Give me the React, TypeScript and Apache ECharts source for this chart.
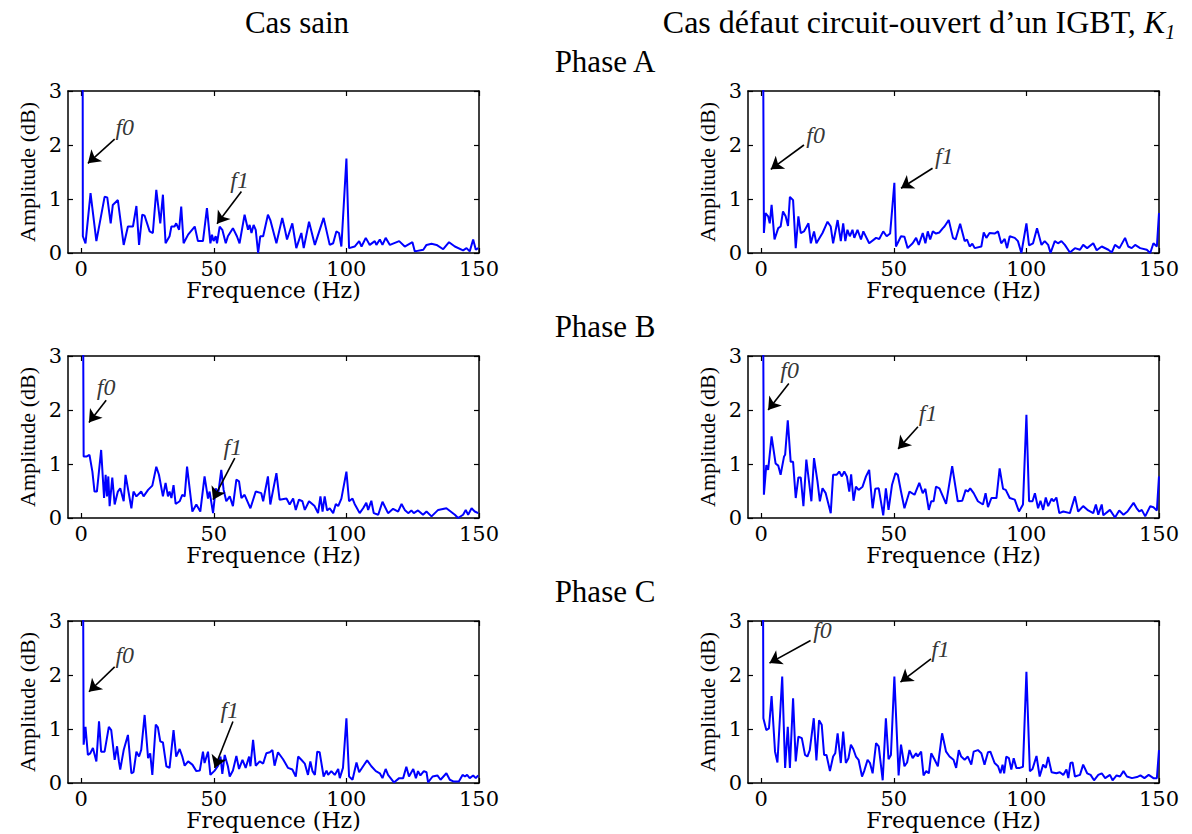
import React, { useEffect, useRef } from "react";
import * as echarts from "echarts";

// ---- data: [frequency (Hz), amplitude (dB)] ----
const sainA: [number, number][] = [[0.5,5],[0.6,0.31],[1.6,0.18],[3.5,1.11],[5.7,0.22],[8.8,1.04],[9.8,1.03],[11.1,0.55],[11.9,0.89],[13.8,0.98],[16,0.15],[17.6,0.49],[19.5,0.49],[20.8,0.87],[21.8,0.15],[23,0.71],[23.9,0.69],[25.8,0.4],[27,0.37],[28.3,1.17],[29.8,0.55],[30.8,1.08],[31.8,0.18],[33.3,0.31],[34,0.49],[35.2,0.49],[35.8,0.55],[36.9,0.43],[37.7,0.86],[38.6,0.18],[40.3,0.34],[42.8,0.49],[44,0.22],[45.9,0.22],[47.4,0.83],[48.7,0.18],[49.3,0.34],[49.9,0.22],[50.7,0.31],[51.2,0.18],[52.2,0.49],[53.2,0.43],[54.5,0.18],[55.3,0.31],[57.2,0.46],[58.7,0.31],[59.7,0.18],[61.6,0.71],[62.9,0.43],[63.5,0.52],[64.2,0.37],[65,0.52],[65.8,0.43],[66.7,0],[67.5,0.31],[68.6,0.31],[70.4,0.71],[71.3,0.61],[73.6,0.18],[75.8,0.65],[76.7,0.46],[77.6,0.25],[79.6,0.55],[81.1,0.09],[83,0.37],[83.9,0.09],[85.9,0.58],[88.1,0.15],[91.4,0.65],[93.7,0.15],[95,0.18],[96.2,0.4],[97.2,0.37],[98.1,0.12],[100,1.75],[101,0.09],[103.1,0.12],[104.8,0.22],[105.7,0.12],[107.3,0.28],[108.8,0.15],[110.7,0.22],[111.3,0.15],[112.6,0.25],[113.6,0.15],[114.8,0.28],[116.4,0.15],[119.9,0.22],[122,0.12],[124.9,0.2],[125.8,0.03],[129,0.06],[130.2,0.15],[132.1,0.17],[134,0.15],[136.5,0.07],[138.7,0.2],[140.9,0.12],[144,0.05],[145.3,0.09],[146.5,0.03],[147.8,0.25],[148.8,0.06],[149.7,0.09]];

const defA: [number, number][] = [[0.6,5],[1,0.37],[1.6,0.74],[2.6,0.68],[3.2,0.55],[3.9,0.89],[5,0.25],[6.4,0.46],[7.3,0.49],[8.2,0.77],[9.2,0.68],[10.1,0.5],[10.8,1.04],[12,0.98],[13,0.09],[14,0.68],[14.9,0.37],[16.1,0.4],[17.8,0.55],[18.7,0.18],[19.9,0.4],[20.8,0.18],[23.1,0.37],[25,0.58],[26.2,0.49],[27.1,0.18],[28.8,0.61],[30,0.22],[30.9,0.55],[31.7,0.22],[32.5,0.43],[33.4,0.31],[34.4,0.43],[35.1,0.28],[36.3,0.43],[37.6,0.25],[38.5,0.4],[40.7,0.18],[43.3,0.28],[44.5,0.26],[46,0.4],[47.3,0.31],[48.6,0.36],[50.2,1.3],[50.8,0.12],[52.7,0.31],[54,0.3],[55.2,0.09],[57.1,0.18],[58.4,0.28],[59.4,0.15],[60.9,0.37],[61.9,0.18],[62.8,0.4],[63.7,0.25],[64.7,0.4],[65.9,0.36],[67.2,0.38],[68.5,0.46],[69.1,0.49],[70.7,0.61],[72.3,0.28],[73.3,0.25],[75,0.54],[76.7,0.22],[77.6,0.25],[78.6,0.12],[79.6,0.17],[80.5,0.09],[83,0.12],[83.9,0.38],[84.9,0.28],[86.1,0.37],[88,0.36],[89.3,0.4],[90.5,0.18],[91.8,0.26],[92.7,0.09],[93.7,0.31],[95.6,0.28],[96.8,0.22],[98.1,0],[100,0.55],[101,0.14],[102.5,0.18],[104,0.46],[105.7,0.15],[106.9,0.22],[108.2,0.15],[109.1,0],[110.7,0.22],[111.9,0.18],[113.2,0.22],[114.5,0.15],[116.4,0.01],[118.3,0.09],[120.2,0.06],[121.4,0.15],[122.9,0.09],[125.2,0.18],[126.5,0.05],[128.4,0.12],[130.9,0.06],[132.2,0.01],[133.4,0.15],[135.1,0.09],[137.2,0.28],[138.4,0.12],[139.7,0.09],[141,0.15],[142.9,0.09],[145.4,0.06],[146.7,0],[147.9,0.18],[149.2,0.12],[150,0.74]];

const sainB: [number, number][] = [[0.6,5],[0.9,1.14],[2.1,1.14],[3.1,1.17],[4.2,0.86],[5,0.49],[5.9,0.49],[7.5,1.26],[8.6,0.37],[9.2,0.8],[9.7,0.4],[10.2,0.77],[10.7,0.22],[11.7,0.75],[12.6,0.25],[13.8,0.49],[14.7,0.55],[16,0.31],[16.7,0.8],[18.9,0.18],[19.7,0.49],[20.8,0.4],[22.6,0.49],[23.5,0.4],[25.2,0.52],[26.8,0.6],[28.3,0.95],[29.3,0.8],[30.8,0.4],[31.8,0.65],[32.7,0.4],[33.3,0.49],[34,0.37],[34.8,0.61],[35.6,0.26],[37.1,0.31],[38.1,0.43],[39,0.4],[39.9,0.95],[41.9,0.12],[43.4,0.25],[44.9,0.12],[46.5,0.77],[47.8,0.36],[48.4,0.49],[49.7,0.09],[50.7,0.55],[51.6,0.43],[52.8,0.89],[53.7,0.52],[54.7,0.31],[56,0.4],[57.2,0.22],[58.5,0.71],[59.5,0.68],[60.4,0.37],[61.6,0.43],[63.8,0.18],[65.8,0.49],[67.9,0.46],[68.6,0.31],[70.4,0.77],[71.3,0.25],[73.6,0.83],[74.8,0.34],[77.4,0.36],[78.6,0.25],[79.9,0.36],[80.9,0.15],[82.1,0.34],[83.4,0.31],[84.3,0.15],[85.9,0.31],[88,0.22],[89.3,0.09],[90.2,0.4],[91,0.12],[91.8,0.4],[92.7,0.14],[93.7,0.18],[95,0.09],[96,0.26],[96.9,0.22],[98.1,0.36],[100,0.86],[101,0.31],[102.3,0.36],[103.1,0.26],[105,0.09],[106.3,0.18],[107.5,0.28],[108.2,0.15],[109.4,0.32],[110.3,0.09],[112,0.06],[113.6,0.3],[115.7,0.09],[117.6,0.17],[119.5,0.12],[120.8,0.26],[122,0.15],[123.3,0.09],[124.5,0.14],[125.4,0.09],[127,0.14],[128.9,0.06],[130.2,0.12],[132.1,0.03],[134.6,0.15],[137.7,0.18],[140.9,0.06],[142.1,0],[144,0.06],[145,0.15],[145.9,0.06],[147.2,0.18],[148.4,0.12],[149.7,0.09]];

const defB: [number, number][] = [[0.6,5],[1,0.43],[1.9,0.98],[2.6,0.89],[3.9,1.51],[5.4,1.01],[6.4,0.97],[7.3,0.8],[8.6,1.14],[9,1.17],[10,1.81],[11.1,1.04],[12,1.04],[13,0.37],[14,0.75],[14.9,0.75],[15.9,0.22],[17,1.08],[18,0.68],[18.9,0.31],[19.9,1.11],[21.2,0.68],[22.1,0.31],[23.1,0.55],[24.3,0.46],[26.2,0.09],[27.1,0.8],[28.4,0.8],[29.4,0.86],[30.4,0.77],[31.3,0.86],[32.3,0.77],[33.2,0.49],[33.9,0.81],[34.8,0.32],[35.7,0.58],[36.7,0.52],[38.2,0.58],[39.5,0.77],[40.7,0.89],[42,0.18],[43,0.54],[44.3,0.55],[46,0.05],[47,0.55],[48,0.15],[49.3,0.61],[50.6,0.83],[51.5,0.8],[52.7,0.49],[54,0.18],[55.9,0.49],[57.8,0.43],[59.6,0.65],[60.9,0.46],[61.9,0.54],[63.2,0.15],[64.1,0.31],[65,0.31],[65.9,0.58],[67.2,0.55],[68.5,0.4],[69.7,0.26],[72,0.96],[74.1,0.31],[75.8,0.32],[77.1,0.52],[77.9,0.49],[78.8,0.55],[80.1,0.46],[81.7,0.31],[83.6,0.25],[84.6,0.46],[85.5,0.2],[86.8,0.37],[88.7,0.37],[89.9,0.92],[91.2,0.54],[92.2,0.52],[93.7,0.37],[95.6,0.34],[97.2,0.12],[98.7,0.25],[100,1.91],[101,0.31],[102.3,0.31],[103.2,0.46],[104.4,0.18],[105.3,0.32],[106.3,0.15],[107.3,0.38],[108.2,0.22],[109.5,0.36],[110.3,0.31],[111.3,0.38],[112.4,0.09],[113.9,0.12],[116.4,0.09],[118.3,0.4],[119.5,0.12],[121.4,0.22],[123.3,0.14],[125.2,0.09],[126.2,0.25],[127.1,0.06],[128.4,0.25],[129,0.05],[131.5,0.15],[133.4,0.01],[135,0.14],[136.6,0.06],[138.1,0.12],[140.4,0.28],[141.6,0.18],[142.6,0.12],[143.5,0.15],[144.8,0.03],[146.7,0.22],[147.9,0.2],[149.2,0.14],[150,0.77]];

const sainC: [number, number][] = [[0.6,5],[0.9,0.71],[1.6,1.04],[2.5,0.52],[3.4,0.55],[4.4,0.65],[5.7,0.4],[6.7,1.14],[7.5,0.58],[8.8,0.58],[10.4,1.04],[11.3,0.98],[12.6,0.43],[13.5,0.68],[14.2,0.4],[14.7,0.25],[16,0.61],[17.6,0.89],[18.9,0.18],[19.7,0.2],[20.8,0.58],[21.8,0.49],[22.6,0.61],[23.9,1.26],[25.2,0.46],[26,0.55],[26.8,0.15],[28.1,1.08],[28.9,1.03],[29.8,0.77],[30.8,0.75],[32.1,0.31],[33.3,0.28],[34.8,0.98],[35.8,0.49],[37.1,0.63],[38.1,0.49],[39,0.32],[40.3,0.4],[41.9,0.34],[43.4,0.22],[44.7,0.23],[45.9,0.58],[46.5,0.37],[47.8,0.58],[48.7,0.15],[50.3,0.23],[51.6,0.32],[52.5,0.49],[53.2,0.17],[54.1,0.52],[55.3,0.31],[56,0.12],[57.2,0.23],[58.5,0.5],[59.5,0.26],[60.8,0.43],[62,0.28],[63.3,0.49],[63.8,0.31],[64.8,0.8],[65.8,0.32],[67.3,0.4],[68.6,0.36],[69.8,0.55],[71.1,0.57],[72.1,0.61],[72.9,0.32],[74.2,0.57],[76.1,0.44],[78,0.28],[79.6,0.25],[80.9,0.12],[81.8,0.49],[83,0.43],[84.3,0.36],[85.5,0.15],[86.4,0.4],[87.2,0.22],[88.1,0.15],[89,0.58],[89.9,0.57],[91.4,0.12],[92.5,0.23],[93.1,0.15],[94.3,0.22],[95.6,0.15],[96.9,0.26],[97.5,0.09],[98.7,0.28],[100,1.2],[101,0.12],[102.3,0.06],[103.8,0.38],[104.8,0.2],[106.3,0.31],[107.8,0.42],[109.4,0.31],[111.1,0.22],[112.6,0.18],[113.6,0.09],[114.8,0.26],[115.7,0.15],[117.9,0.01],[119.9,0.09],[121.4,0.09],[122.6,0.3],[123.6,0.12],[125.2,0.26],[126.2,0.09],[127,0.22],[127.9,0.14],[129.2,0.22],[130.2,0.2],[130.8,0.01],[132.5,0.12],[134.3,0.14],[135.5,0.06],[137.7,0.18],[139,0.06],[140.3,0.03],[142.4,0.03],[143.8,0.15],[144.7,0.12],[145.5,0.15],[146.5,0.09],[147.8,0.14],[148.8,0.09],[149.7,0.14]];

const defC: [number, number][] = [[0.6,5],[0.8,1.2],[1.9,0.98],[2.9,1.01],[3.9,1.61],[5.2,0.58],[6.1,0.38],[7.9,1.97],[9,0.28],[10,1.04],[10.8,0.28],[12,1.57],[13,0.4],[14,0.86],[15.3,0.83],[16.5,0.52],[17.4,0.49],[18.3,0.61],[19.8,1.2],[20.8,0.42],[21.8,1.16],[22.8,1.08],[23.7,0.52],[24.6,0.52],[25.9,0.22],[27.1,0.49],[27.9,0.55],[28.8,0.92],[30,0.37],[30.9,0.95],[31.9,0.37],[32.9,0.46],[33.8,0.71],[34.7,0.63],[35.7,0.49],[36.7,0.43],[38,0.12],[38.8,0.22],[40.1,0.43],[41,0.37],[42,0.18],[43.3,0.74],[44.3,0.68],[45.8,0.05],[47,1.2],[48,0.44],[48.9,0.52],[50.2,1.97],[51.8,0.14],[52.7,0.71],[54,0.31],[55,0.38],[55.9,0.61],[57.1,0.46],[58.4,0.55],[59,0.49],[60.3,0.58],[61.2,0.14],[62.2,0.22],[63.2,0.18],[64.1,0.55],[65.3,0.44],[66.6,0.31],[68.2,0.92],[69.7,0.58],[71,0.49],[72.5,0.43],[73.5,0.28],[74.5,0.61],[75.4,0.49],[76.7,0.43],[77.9,0.49],[79.2,0.34],[80.1,0.58],[81.7,0.61],[83,0.55],[84.2,0.34],[85.5,0.57],[86.4,0.58],[88,0.37],[89.3,0.31],[90.2,0.18],[91,0.34],[91.6,0.18],[92.4,0.49],[93.4,0.46],[94.3,0.25],[95.2,0.46],[96.2,0.28],[97.5,0.28],[98.7,0.3],[100,2.06],[101.3,0.22],[102.3,0.26],[103.8,0.5],[105,0.12],[106.3,0.34],[107.3,0.28],[108.2,0.48],[109.5,0.2],[111.3,0.18],[112.6,0.2],[113.9,0.15],[115.1,0.25],[115.8,0.09],[116.6,0.37],[117.4,0.38],[118.3,0.12],[120.2,0.15],[121.4,0.34],[122.9,0.18],[124.2,0.15],[125.5,0.05],[127.1,0.15],[128.4,0.18],[129.7,0.09],[131.5,0.15],[132.5,0.05],[134,0.14],[135.3,0.12],[136.6,0.22],[137.9,0.12],[139.8,0.09],[141.7,0.11],[143,0.14],[144.5,0.09],[146.1,0.15],[147.9,0.09],[149.2,0.09],[150,0.61]];

const xTicks = [0, 50, 100, 150];
const colTitles = ["Cas sain", "{n|Cas défaut circuit-ouvert d’un IGBT, }{k|K}{s|1}"];
const rowTitles = ["Phase A", "Phase B", "Phase C"];
const xName = "Frequence (Hz)";
const yName = "Amplitude (dB)";

// annotation anchors (data coordinates): text, arrow tail, arrow head
type Ann = { label: string; text: [number, number]; tail: [number, number]; head: [number, number] };
const annotations: Ann[][] = [
  [
    { label: "f0", text: [16.4, 2.34], tail: [12.6, 2.11], head: [2.5, 1.66] },
    { label: "f1", text: [59.7, 1.35], tail: [60.4, 1.14], head: [51.2, 0.54] },
  ],
  [
    { label: "f0", text: [20.5, 2.18], tail: [16.1, 2.0], head: [3.6, 1.55] },
    { label: "f1", text: [69, 1.79], tail: [64.6, 1.57], head: [52.7, 1.2] },
  ],
  [
    { label: "f0", text: [9.4, 2.43], tail: [9.4, 2.18], head: [2.9, 1.77] },
    { label: "f1", text: [57.2, 1.32], tail: [57.9, 1.11], head: [49.7, 0.34] },
  ],
  [
    { label: "f0", text: [10.7, 2.74], tail: [10.4, 2.49], head: [2.6, 2.0] },
    { label: "f1", text: [62.9, 1.94], tail: [59.1, 1.69], head: [51.6, 1.28] },
  ],
  [
    { label: "f0", text: [16.4, 2.37], tail: [12.6, 2.15], head: [2.9, 1.69] },
    { label: "f1", text: [56, 1.35], tail: [57.2, 1.14], head: [50.3, 0.28] },
  ],
  [
    { label: "f0", text: [23.1, 2.83], tail: [18.6, 2.64], head: [3.1, 2.22] },
    { label: "f1", text: [67.6, 2.49], tail: [64, 2.3], head: [52.5, 1.87] },
  ],
];

const panels = [sainA, defA, sainB, defB, sainC, defC];

const SERIF = "'Liberation Serif', 'Times New Roman', serif";
const AXFONT = "'DejaVu Serif', serif";

function buildOption() {
  const colLeft = [68, 748];
  const rowTop = [91, 356, 621];
  const gw = 411;
  const gh = 162;
  const grid: any[] = [];
  const xAxis: any[] = [];
  const yAxis: any[] = [];
  const series: any[] = [];
  const axLine = { show: true, onZero: false, lineStyle: { color: "#000", width: 1.5 } };
  const tickStyle = { color: "#000", width: 1.2 };

  panels.forEach((data, i) => {
    const r = Math.floor(i / 2);
    const c = i % 2;
    grid.push({ left: colLeft[c], top: rowTop[r], width: gw, height: gh, containLabel: false, outerBoundsMode: "none" });
    xAxis.push({
      gridIndex: i, type: "value", min: -5, max: 150, position: "bottom",
      axisLine: axLine,
      axisTick: { show: true, inside: true, length: 5, customValues: xTicks, lineStyle: tickStyle },
      axisLabel: { show: true, customValues: xTicks, fontFamily: AXFONT, fontSize: 21, color: "#000", margin: 5 },
      splitLine: { show: false },
      name: xName, nameLocation: "middle", nameGap: 26,
      nameTextStyle: { fontFamily: AXFONT, fontSize: 22, color: "#000" },
    });
    xAxis.push({
      gridIndex: i, type: "value", min: -5, max: 150, position: "top",
      axisLine: axLine,
      axisTick: { show: true, inside: true, length: 5, customValues: xTicks, lineStyle: tickStyle },
      axisLabel: { show: false },
      splitLine: { show: false },
    });
    yAxis.push({
      gridIndex: i, type: "value", min: 0, max: 3, interval: 1, position: "left",
      axisLine: axLine,
      axisTick: { show: true, inside: true, length: 5, lineStyle: tickStyle },
      axisLabel: { show: true, fontFamily: AXFONT, fontSize: 21, color: "#000", margin: 6 },
      splitLine: { show: false },
      name: yName, nameLocation: "middle", nameGap: 30, nameRotate: 90,
      nameTextStyle: { fontFamily: SERIF, fontSize: 22, color: "#000" },
    });
    yAxis.push({
      gridIndex: i, type: "value", min: 0, max: 3, interval: 1, position: "right",
      axisLine: axLine,
      axisTick: { show: true, inside: true, length: 5, lineStyle: tickStyle },
      axisLabel: { show: false },
      splitLine: { show: false },
    });

    const anns = annotations[i];
    series.push({
      type: "line",
      xAxisIndex: 2 * i,
      yAxisIndex: 2 * i,
      data,
      showSymbol: false,
      symbol: "none",
      clip: true,
      lineStyle: { color: "#0000ff", width: 2 },
      silent: true,
      markLine: {
        silent: true,
        symbol: ["none", "arrow"],
        symbolSize: 12,
        label: { show: false },
        lineStyle: { color: "#000", width: 1.6, type: "solid" },
        data: anns.map((a) => [{ coord: a.tail }, { coord: a.head }]),
      },
    });
    series.push({
      type: "scatter",
      xAxisIndex: 2 * i,
      yAxisIndex: 2 * i,
      symbolSize: 1,
      itemStyle: { color: "rgba(0,0,0,0)" },
      silent: true,
      data: anns.map((a) => ({ name: a.label, value: a.text })),
      label: {
        show: true, position: "inside", formatter: "{b}",
        fontFamily: SERIF, fontStyle: "italic", fontSize: 24, color: "#000",
      },
    });
  });

  const graphic: any[] = [
    {
      type: "text", x: 297, y: 22,
      style: { text: colTitles[0], fontFamily: SERIF, fontSize: 31, fill: "#000", align: "center", verticalAlign: "middle", textAlign: "center", textVerticalAlign: "middle" },
    },
    {
      type: "text", x: 919, y: 22,
      style: {
        text: colTitles[1], fill: "#000", align: "center", verticalAlign: "middle", textAlign: "center", textVerticalAlign: "middle",
        rich: {
          n: { fontFamily: SERIF, fontSize: 32, lineHeight: 40, verticalAlign: "middle", fill: "#000" },
          k: { fontFamily: SERIF, fontSize: 32, fontStyle: "italic", lineHeight: 40, verticalAlign: "middle", fill: "#000" },
          s: { fontFamily: SERIF, fontSize: 20, fontStyle: "italic", lineHeight: 40, verticalAlign: "bottom", fill: "#000" },
        },
      },
    },
  ];
  rowTitles.forEach((t, r) => {
    graphic.push({
      type: "text", x: 605, y: 61 + r * 265,
      style: { text: t, fontFamily: SERIF, fontSize: 31, fill: "#000", align: "center", verticalAlign: "middle", textAlign: "center", textVerticalAlign: "middle" },
    });
  });

  return {
    animation: false,
    backgroundColor: "#fff",
    grid, xAxis, yAxis, series, graphic,
  };
}

export default function App() {
  const ref = useRef<HTMLDivElement | null>(null);
  useEffect(() => {
    if (!ref.current) return;
    const chart = echarts.init(ref.current, undefined, { renderer: "svg" });
    chart.setOption(buildOption() as any);
    return () => chart.dispose();
  }, []);
  return <div ref={ref} style={{ position: "absolute", left: 0, top: 0, width: 1192, height: 834 }} />;
}
